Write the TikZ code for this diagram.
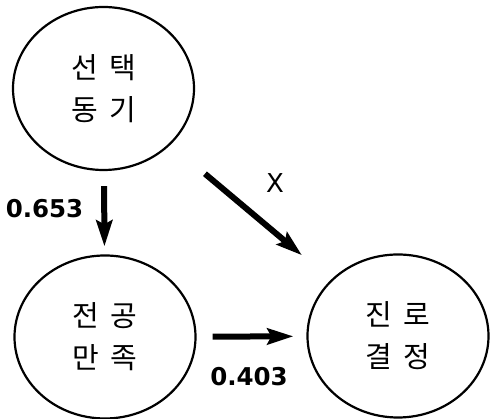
\documentclass[tikz,border=0pt]{standalone}
\usepackage{fontspec}
\newfontfamily\krfont{Noto Sans CJK KR}
\newfontfamily\numfont{DejaVu Sans}
\usetikzlibrary{shapes.geometric,arrows.meta}

\newcommand{\gap}{\hspace{0.4em}}
\tikzset{
  factor/.style={ellipse, draw=black, line width=2.2pt, inner sep=0pt,
    minimum width=181pt, minimum height=163pt, align=center,
    font=\krfont\fontsize{29}{42}\selectfont},
  path arrow/.style={line width=6pt, -{Stealth[length=26pt,width=16pt,inset=4pt]}},
  coef/.style={inner sep=0pt, font=\numfont\bfseries\fontsize{24.5}{28}\selectfont}
}

\begin{document}
\begin{tikzpicture}[x=1pt,y=-1pt]
\useasboundingbox (0,0) rectangle (491,419);
% factors
\node [factor] (motive) at (103.5,88.5) {선\gap 택\\동\gap 기};
\node [factor] (satisf) at (105,337) {전\gap 공\\만\gap 족};
\node [factor] (career) at (398,336) {진\gap 로\\결\gap 정};
% paths
\draw [path arrow, shorten <=15pt, shorten >=8pt] (motive) -- (satisf);
\draw [path arrow, shorten <=45pt, shorten >=38pt] (motive) -- (career);
\draw [path arrow, shorten <=16pt, shorten >=13pt] (satisf) -- (career);
% coefficients
\node [coef] (c653) at (44.5,209) {0.653};
\node [coef] (c403) at (249,377) {0.403};
\node [inner sep=0pt, font=\numfont\fontsize{26}{30}\selectfont] (cx) at (275,183) {X};
\end{tikzpicture}
\end{document}
